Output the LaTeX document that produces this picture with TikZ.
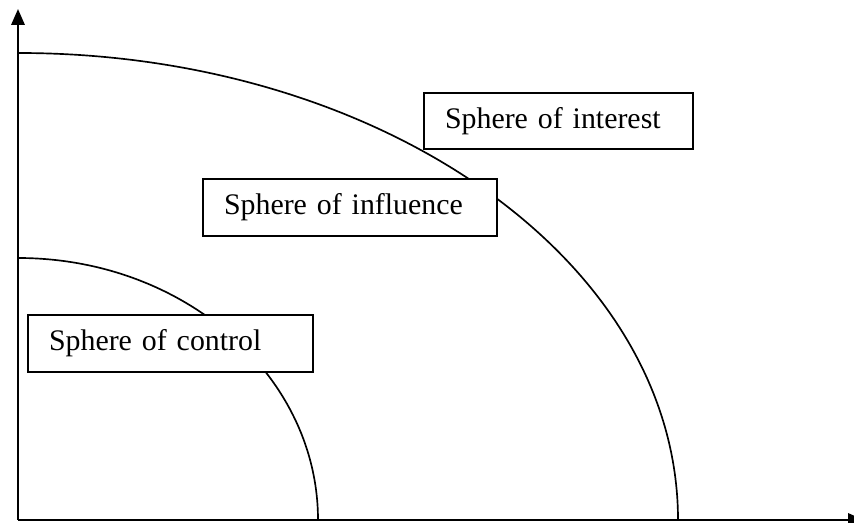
\documentclass[tikz,border=0pt]{standalone}
\usepackage{fontspec}
\setmainfont{Liberation Serif}
\usetikzlibrary{arrows.meta}

\tikzset{
  axis/.style={line width=1.3pt, -{Triangle[width=7.5pt,length=9pt]}},
  spherearc/.style={line width=0.95pt},
  spherebox/.style={draw, line width=0.8pt, fill=white, inner xsep=0.42cm, align=left,
    font=\fontsize{17}{20}\selectfont}
}

\begin{document}
\begin{tikzpicture}[x=0.02cm, y=0.02cm]
\useasboundingbox (-18,-3) rectangle (836,520);

\coordinate (o) at (0,0);
\coordinate (ytop) at (0,511);
\coordinate (xend) at (846,0);

\draw [spherearc] (0,262) arc[start angle=90, end angle=0, x radius=300, y radius=262];
\draw [spherearc] (0,467) arc[start angle=90, end angle=0, x radius=660, y radius=467];

\draw [axis] (o) -- (ytop);
\draw [axis] (o) -- (xend);

\node[spherebox, text width=4.54cm, minimum height=1.12cm] (interest) at (540.5,399) {Sphere of interest};

\node[spherebox, text width=5.04cm, minimum height=1.14cm] (influence) at (332,312.5) {Sphere of influence};

\node[spherebox, text width=4.86cm, minimum height=1.14cm] (control) at (152.5,176.5) {Sphere of control};
\end{tikzpicture}
\end{document}
